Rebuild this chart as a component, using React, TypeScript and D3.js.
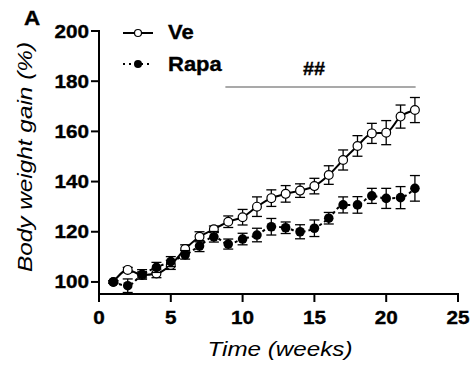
import React from "react";
import * as d3 from "d3";

const weeks = [1, 2, 3, 4, 5, 6, 7, 8, 9, 10, 11, 12, 13, 14, 15, 16, 17, 18, 19, 20, 21, 22];
const veMean = [100, 104.8, 102.8, 103.4, 106.8, 113.1, 118, 121, 124, 125.8, 130, 133.4, 135.1, 136.4, 138.2, 142.6, 148.6, 154.2, 159.2, 159.5, 165.9, 168.5];
const veErr = [0.5, 1, 1.2, 1.7, 1.8, 1.7, 2, 1.3, 2.3, 3.1, 3.9, 3.3, 3.3, 2.7, 3.1, 3.7, 4, 4.1, 4, 4.8, 4.6, 5];
const rapaMean = [100, 98.5, 103, 105.8, 108.1, 110.8, 114.3, 118, 115.1, 117.1, 118.7, 122, 121.6, 120, 121.4, 125.4, 130.7, 130.7, 134.3, 133.3, 133.6, 137.3];
const rapaErr = [0.5, 2.7, 1.9, 2, 2, 1.7, 2.2, 2.1, 2, 2.3, 2.7, 3.3, 2.3, 2.8, 3.3, 2.3, 3.2, 3.3, 3, 4, 4.4, 5.1];
const xTicks = [0, 5, 10, 15, 20, 25];
const yTicks = [100, 120, 140, 160, 180, 200];
const sigRange = [8.8, 22.05];
const seriesNames = ["Ve", "Rapa"];

const SX = 1.15;

function T(props: {
  x: number;
  y: number;
  size: number;
  anchor?: string;
  bold?: boolean;
  italic?: boolean;
  sx?: number;
  children: React.ReactNode;
}) {
  const { x, y, size, anchor = "start", bold, italic, sx = SX, children } = props;
  return (
    <text
      transform={`translate(${x},${y}) scale(${sx},1)`}
      fontSize={size}
      fontWeight={bold ? "bold" : "normal"}
      fontStyle={italic ? "italic" : "normal"}
      textAnchor={anchor}
      stroke={bold ? "#000" : "none"}
      strokeWidth={bold ? 0.35 : 0}
    >
      {children}
    </text>
  );
}

export default function App() {
  const x = d3.scaleLinear().domain([0, 25]).range([99, 458]);
  const y = d3.scaleLinear().domain([95.2, 200]).range([294, 31]);
  const font = "'Liberation Sans', Arial, sans-serif";

  const line = d3
    .line<number>()
    .x((_, i) => x(weeks[i]))
    .y((d) => y(d))
    .curve(d3.curveMonotoneX);

  const errBars = (means: number[], errs: number[], key: string) =>
    means.map((m, i) => {
      const cx = x(weeks[i]);
      const y1 = y(m + errs[i]);
      const y2 = y(m - errs[i]);
      return (
        <g key={key + i} stroke="#000" strokeWidth={1.3}>
          <line x1={cx} x2={cx} y1={y1} y2={y2} />
          <line x1={cx - 5} x2={cx + 5} y1={y1} y2={y1} />
          <line x1={cx - 5} x2={cx + 5} y1={y2} y2={y2} />
        </g>
      );
    });

  return (
    <svg
      width={472}
      height={369}
      style={{ position: "absolute", left: 0, top: 0, background: "#fff" }}
      fontFamily={font}
    >
      {/* panel label */}
      <T x={24} y={25} size={19.5} bold>A</T>

      {/* y axis */}
      <line x1={99} x2={99} y1={y(200) - 1} y2={295} stroke="#000" strokeWidth={2} />
      {yTicks.map((t) => (
        <g key={"y" + t}>
          <line x1={91} x2={99} y1={y(t)} y2={y(t)} stroke="#000" strokeWidth={2} />
          <T x={89} y={y(t) + 6.5} size={18} bold anchor="end">{t}</T>
        </g>
      ))}
      {/* x axis */}
      <line x1={98} x2={x(25) + 1} y1={294} y2={294} stroke="#000" strokeWidth={2} />
      {xTicks.map((t) => (
        <g key={"x" + t}>
          <line x1={x(t)} x2={x(t)} y1={294} y2={302} stroke="#000" strokeWidth={2} />
          <T x={x(t)} y={324} size={18} bold anchor="middle">{t}</T>
        </g>
      ))}
      <text
        x={280}
        y={356}
        fontSize={21}
        fontStyle="italic"
        textAnchor="middle"
        textLength={145}
        lengthAdjust="spacingAndGlyphs"
      >
        Time (weeks)
      </text>
      <text
        transform={`translate(32,${157}) rotate(-90)`}
        fontSize={21}
        fontStyle="italic"
        textAnchor="middle"
        textLength={230}
        lengthAdjust="spacingAndGlyphs"
      >
        Body weight gain (%)
      </text>

      {/* significance */}
      <line x1={x(sigRange[0])} x2={x(sigRange[1])} y1={87} y2={87} stroke="#555" strokeWidth={1.2} />
      <T x={314} y={75} size={18} bold anchor="middle" sx={1.1}>##</T>

      {/* Ve series */}
      {errBars(veMean, veErr, "ve")}
      <path d={line(veMean) || ""} fill="none" stroke="#000" strokeWidth={2} />
      {veMean.map((m, i) => (
        <circle key={"vc" + i} cx={x(weeks[i])} cy={y(m)} r={4.4} fill="#fff" stroke="#000" strokeWidth={1.2} />
      ))}

      {/* Rapa series */}
      {errBars(rapaMean, rapaErr, "ra")}
      <path d={line(rapaMean) || ""} fill="none" stroke="#000" strokeWidth={2} strokeDasharray="3,3" />
      {rapaMean.map((m, i) => (
        <circle key={"rc" + i} cx={x(weeks[i])} cy={y(m)} r={4.8} fill="#000" />
      ))}

      {/* legend */}
      <line x1={123} x2={153} y1={33} y2={33} stroke="#000" strokeWidth={2} />
      <circle cx={138} cy={33} r={3.5} fill="#fff" stroke="#000" strokeWidth={1.2} />
      <T x={168} y={38.5} size={20} bold sx={1.1}>{seriesNames[0]}</T>
      <line x1={123} x2={153} y1={64} y2={64} stroke="#000" strokeWidth={2} strokeDasharray="2,4" />
      <circle cx={138} cy={64} r={4} fill="#000" />
      <T x={168} y={70.5} size={20} bold sx={1.1}>{seriesNames[1]}</T>
    </svg>
  );
}
